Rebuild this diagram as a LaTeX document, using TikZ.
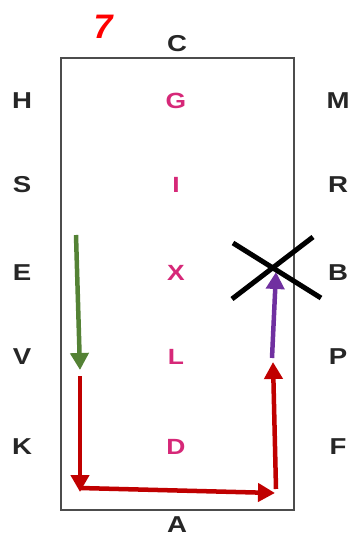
\documentclass[tikz,border=0pt]{standalone}
\usepackage{fontspec}
\setmainfont{Liberation Sans}
\usetikzlibrary{arrows.meta}
\definecolor{mag}{RGB}{214,40,120}
\definecolor{redar}{RGB}{192,0,0}
\definecolor{greenar}{RGB}{84,130,53}
\definecolor{purplear}{RGB}{112,48,160}
\tikzset{
  side/.style={font=\bfseries\fontsize{23}{23}\selectfont, text=black!85, xscale=1.2},
  mid/.style={font=\bfseries\fontsize{22}{22}\selectfont, text=mag, xscale=1.2},
  arr/.style={line width=4.5pt, -{Triangle[width=18pt,length=17pt]}},
  xline/.style={line width=5pt, black}
}
\begin{document}
\begin{tikzpicture}[x=1pt,y=-1pt]
\useasboundingbox (0,0) rectangle (358,537);
\draw[line width=2pt, black!70] (61,58) rectangle (294,510);
\node[font=\bfseries\itshape\fontsize{34}{34}\selectfont, text=red] (seven) at (103,27) {7};
\node[side] (C) at (177,44) {C};
\node[side] (A) at (177,525) {A};
\node[side] (H) at (22,101) {H};
\node[side] (S) at (22,185) {S};
\node[side] (E) at (22,273) {E};
\node[side] (V) at (22,357) {V};
\node[side] (K) at (22,447) {K};
\node[side] (M) at (338,101) {M};
\node[side] (R) at (338,185) {R};
\node[side] (B) at (338,273) {B};
\node[side] (P) at (338,357) {P};
\node[side] (F) at (338,447) {F};
\node[mid] (G) at (176,101) {G};
\node[mid] (I) at (176,185) {I};
\node[mid] (X) at (176,273) {X};
\node[mid] (L) at (176,357) {L};
\node[mid] (D) at (176,447) {D};
% arrow coordinates
\coordinate (g1) at (76,235);
\coordinate (g2) at (80,370);
\coordinate (r1) at (80,376);
\coordinate (r2) at (80,492);
\coordinate (r3) at (80,488);
\coordinate (r4) at (275,493);
\coordinate (r5) at (276,489);
\coordinate (r6) at (273,362);
\coordinate (p1) at (272,358);
\coordinate (p2) at (276,272);
\draw[arr, greenar] (g1) -- (g2);
\draw[arr, redar] (r1) -- (r2);
\draw[arr, redar] (r3) -- (r4);
\draw[arr, redar] (r5) -- (r6);
\draw[arr, purplear] (p1) -- (p2);
% cross
\coordinate (x1) at (233,243);
\coordinate (x2) at (321,298);
\coordinate (x3) at (232,299);
\coordinate (x4) at (313,237);
\draw[xline] (x1) -- (x2);
\draw[xline] (x3) -- (x4);
\end{tikzpicture}
\end{document}
